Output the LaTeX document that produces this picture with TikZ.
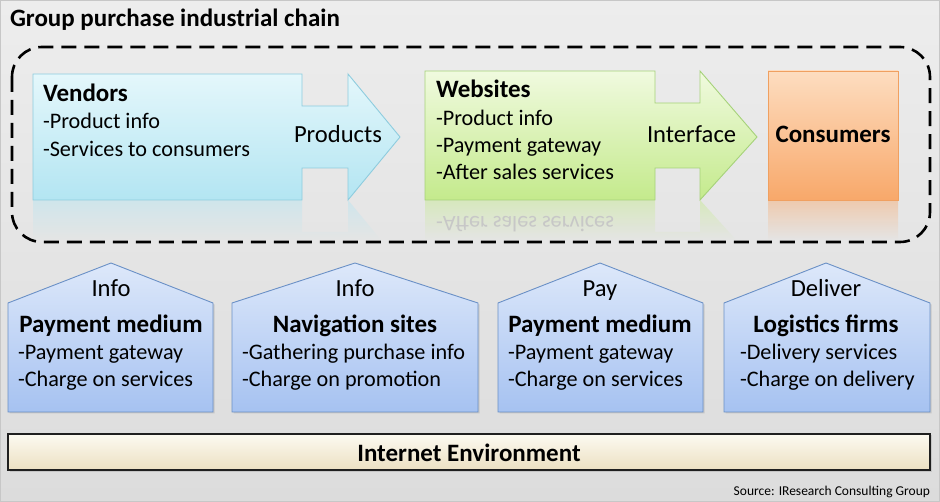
\documentclass[tikz,border=0pt]{standalone}
\usepackage{fontspec}
\setmainfont{Carlito}
\usetikzlibrary{shadows,fadings}
\definecolor{bgtop}{HTML}{EDEDED}
\definecolor{bgmid}{HTML}{F6F6F6}
\definecolor{bgbot}{HTML}{DCDCDC}
\definecolor{vtop}{HTML}{E4F7FB}
\definecolor{vbot}{HTML}{B3E5F2}
\definecolor{vline}{HTML}{8ECCDE}
\definecolor{wtop}{HTML}{F0FADF}
\definecolor{wbot}{HTML}{C4EA8C}
\definecolor{wline}{HTML}{A6D27A}
\definecolor{ctop}{HTML}{FDDDC0}
\definecolor{cbot}{HTML}{F8A86A}
\definecolor{cline}{HTML}{F0A060}
\definecolor{htop}{HTML}{DDE8FA}
\definecolor{hbot}{HTML}{A6C2F1}
\definecolor{hline}{HTML}{6A90C6}
\definecolor{btop}{HTML}{FCFAF1}
\definecolor{bbot}{HTML}{ECE0C2}
\tikzfading[name=reflfade, top color=transparent!55, bottom color=transparent!100]
\begin{document}
\begin{tikzpicture}[x=1pt,y=-1pt,
  txt/.style={inner sep=0pt, outer sep=0pt, anchor=base west, font=\fontsize{22.2}{26}\selectfont},
  ctxt/.style={txt, anchor=base},
  head/.style={txt, font=\fontsize{25}{29}\selectfont\bfseries},
  chead/.style={head, anchor=base},
  lab/.style={txt, font=\fontsize{24.6}{28}\selectfont},
  clab/.style={lab, anchor=base},
  shadow/.style={drop shadow={opacity=0.25, shadow xshift=1.5pt, shadow yshift=-1.5pt}},
  house/.style={draw=hline, line width=0.9pt, top color=htop, bottom color=hbot, shadow},
]
\useasboundingbox (0,0) rectangle (940,502);
% background
\fill[top color=bgtop, middle color=bgmid, bottom color=bgbot] (0,0) rectangle (940,502);
\draw[black!22, line width=1pt] (0.5,0.5) rectangle (939.5,501.5);

% title
\node[head] (title) at (10,27) {Group purchase industrial chain};

% reflections
\begin{scope}
  \clip (33,200) -- (302,200) -- (302,232) -- (348,232) -- (348,200) -- (400,263) -- (33,263) -- cycle;
  \fill[vbot, path fading=reflfade] (0,200) rectangle (940,240);
\end{scope}
\begin{scope}
  \clip (425,200) -- (655,200) -- (655,232) -- (700,232) -- (700,200) -- (757,263) -- (425,263) -- cycle;
  \fill[wbot, path fading=reflfade] (0,200) rectangle (940,240);
\end{scope}
\begin{scope}
  \clip (768,200) rectangle (898,263);
  \fill[cbot, path fading=reflfade] (0,200) rectangle (940,240);
\end{scope}
\node[txt, yscale=-1, text=black!22] (reftxt) at (436,217) {-After sales services};

% vendors arrow
\draw[vline, line width=0.9pt, top color=vtop, bottom color=vbot]
  (33,74) -- (302,74) -- (302,106) -- (348,106) -- (348,74) -- (400,137)
  -- (348,200) -- (348,168) -- (302,168) -- (302,200) -- (33,200) -- cycle;
\node[head] (vend) at (43,102) {Vendors};
\node[txt] (vend1) at (43,129) {-Product info};
\node[txt] (vend2) at (43,157) {-Services to consumers};
\node[lab] (prod) at (294,143) {Products};

% websites arrow
\draw[wline, line width=0.9pt, top color=wtop, bottom color=wbot]
  (425,71) -- (655,71) -- (655,103) -- (700,103) -- (700,71) -- (757,137)
  -- (700,200) -- (700,168) -- (655,168) -- (655,200) -- (425,200) -- cycle;
\node[head] (web) at (436,98) {Websites};
\node[txt] (web1) at (436,126) {-Product info};
\node[txt] (web2) at (436,153) {-Payment gateway};
\node[txt] (web3) at (436,180) {-After sales services};
\node[lab] (intf) at (647,143) {Interface};

% consumers
\draw[cline, line width=0.9pt, top color=ctop, bottom color=cbot] (768,71) rectangle (898,200);
\node[chead] (cons) at (833,143) {Consumers};

% dashed frame
\draw[black, line width=2.6pt, dash pattern=on 15pt off 8pt, rounded corners=30pt]
  (12,47) rectangle (930,242);

% houses
\path[house] (8,303) -- (111,263) -- (213,303) -- (213,412) -- (8,412) -- cycle;
\path[house] (232,303) -- (355,263) -- (478,303) -- (478,412) -- (232,412) -- cycle;
\path[house] (498,303) -- (600,263) -- (703,303) -- (703,412) -- (498,412) -- cycle;
\path[house] (724,303) -- (826,263) -- (930,303) -- (930,412) -- (724,412) -- cycle;

\node[clab] (h1a) at (111,297) {Info};
\node[chead] (h1b) at (111,333) {Payment medium};
\node[txt] (h1c) at (18,360) {-Payment gateway};
\node[txt] (h1d) at (18,387) {-Charge on services};

\node[clab] (h2a) at (355,297) {Info};
\node[chead] (h2b) at (355,333) {Navigation sites};
\node[txt] (h2c) at (242,360) {-Gathering purchase info};
\node[txt] (h2d) at (242,387) {-Charge on promotion};

\node[clab] (h3a) at (600,297) {Pay};
\node[chead] (h3b) at (600,333) {Payment medium};
\node[txt] (h3c) at (508,360) {-Payment gateway};
\node[txt] (h3d) at (508,387) {-Charge on services};

\node[clab] (h4a) at (826,297) {Deliver};
\node[chead] (h4b) at (826,333) {Logistics firms};
\node[txt] (h4c) at (740,360) {-Delivery services};
\node[txt] (h4d) at (740,387) {-Charge on delivery};

% internet bar
\draw[black!88, line width=1.6pt, top color=btop, bottom color=bbot, shadow] (8,434) rectangle (930,470);
\node[chead] (inet) at (469,461) {Internet Environment};

% source
\node[txt, anchor=base east, font=\fontsize{13.5}{16}\selectfont] (src) at (930,495) {Source: IResearch Consulting Group};
\end{tikzpicture}
\end{document}
